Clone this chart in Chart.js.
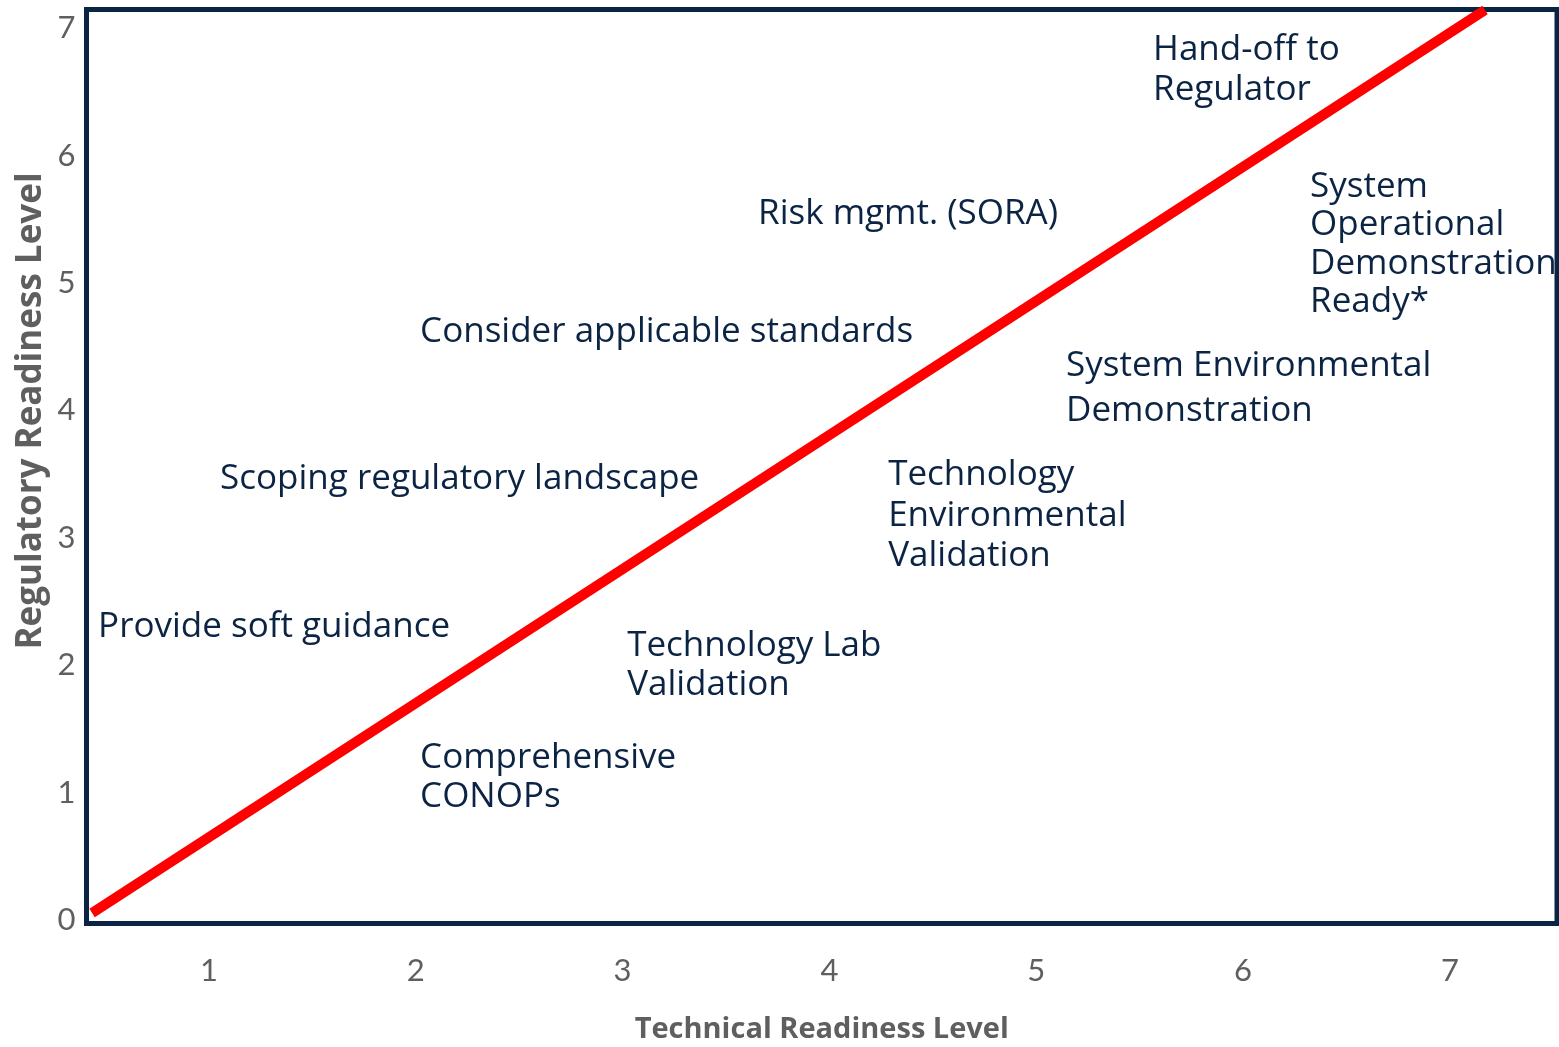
<!DOCTYPE html>
<html>
<head>
<meta charset="utf-8">
<title>Technical vs Regulatory Readiness</title>
<script src="https://cdn.jsdelivr.net/npm/chart.js@4.4.1/dist/chart.umd.min.js"></script>
<style>
    html, body { margin: 0; padding: 0; background: #ffffff; }
</style>
</head>
<body>
<canvas id="readinessChart" width="1559" height="1047"></canvas>
<script>
// tick values on both axes
const techLevels = [1, 2, 3, 4, 5, 6, 7];
const regLevels = [0, 1, 2, 3, 4, 5, 6, 7];

// the red diagonal (technical level -> regulatory level)
const diagonalTech = [0.435, 7.17];
const diagonalReg = [0.055, 7.143];

// stage annotations, anchored at (technical, regulatory) of their first line
const stageText = [
    ['Hand-off to', 'Regulator'],
    ['Risk mgmt. (SORA)'],
    ['System', 'Operational', 'Demonstration', 'Ready*'],
    ['Consider applicable standards'],
    ['System Environmental', 'Demonstration'],
    ['Scoping regulatory landscape'],
    ['Technology', 'Environmental', 'Validation'],
    ['Provide soft guidance'],
    ['Technology Lab', 'Validation'],
    ['Comprehensive', 'CONOPs']
];
const stageTech = [5.565, 3.655, 6.324, 2.021, 5.144, 1.054, 4.284, 0.464, 3.022, 2.021];
const stageReg = [6.829, 5.542, 5.754, 4.616, 4.349, 3.462, 3.493, 2.300, 2.151, 1.272];

// line spacing of each annotation (px)
const stageLineGap = [40, 0, 38.5, 0, 45, 0, 40.5, 0, 39, 39];

const NAVY = '#0c2444';
const GRAY = '#5f5f5f';

const boxAndLabels = {
    id: 'boxAndLabels',
    beforeDatasetsDraw(chart) {
        const {ctx, chartArea: a, scales: {x, y}} = chart;
        ctx.save();
        // annotations first, so the frame and the red line lie on top
        ctx.font = '35px "Open Sans"';
        ctx.fillStyle = NAVY;
        ctx.textAlign = 'left';
        ctx.textBaseline = 'middle';
        stageText.forEach((lines, i) => {
            const px = x.getPixelForValue(stageTech[i]);
            const py = y.getPixelForValue(stageReg[i]);
            lines.forEach((line, j) => ctx.fillText(line, px, py + j * stageLineGap[i]));
        });
        ctx.strokeStyle = NAVY;
        ctx.lineWidth = 5;
        ctx.strokeRect(a.left, a.top, a.right - a.left, a.bottom - a.top);
        ctx.restore();
    },
    afterDraw(chart) {
        // y axis title sits above the middle of the axis, so it is placed by hand
        const {ctx} = chart;
        ctx.save();
        ctx.translate(31, 411);
        ctx.rotate(-Math.PI / 2);
        ctx.font = 'bold 35px "Open Sans"';
        ctx.fillStyle = GRAY;
        ctx.textAlign = 'center';
        ctx.textBaseline = 'middle';
        ctx.fillText('Regulatory Readiness Level', 0, 0);
        ctx.restore();
    }
};

function criarGrafico() {
    const ctx = document.getElementById('readinessChart').getContext('2d');
    new Chart(ctx, {
        type: 'scatter',
        data: {
            datasets: [{
                data: diagonalTech.map((t, i) => ({x: t, y: diagonalReg[i]})),
                showLine: true,
                borderColor: '#ff0000',
                borderWidth: 10,
                borderCapStyle: 'butt',
                pointRadius: 0,
                clip: false
            }]
        },
        options: {
            responsive: false,
            animation: false,
            devicePixelRatio: 1,
            layout: { padding: { top: 9.5, right: 2, left: 0, bottom: 0 } },
            plugins: { legend: { display: false }, tooltip: { enabled: false } },
            scales: {
                x: {
                    type: 'linear',
                    min: 0.408,
                    max: 7.518,
                    afterBuildTicks: s => { s.ticks = techLevels.map(v => ({value: v})); },
                    afterFit: s => { s.height = 123.5; s.paddingLeft = 0; s.paddingRight = 0; },
                    grid: { display: false, drawTicks: false },
                    border: { display: false },
                    ticks: {
                        autoSkip: false,
                        maxRotation: 0,
                        padding: 29,
                        color: GRAY,
                        font: { family: 'Lato', size: 31 }
                    },
                    title: {
                        display: true,
                        text: 'Technical Readiness Level',
                        color: GRAY,
                        padding: { top: 0, bottom: 0 },
                        font: { family: 'Open Sans', size: 29, weight: 'bold' }
                    }
                },
                y: {
                    type: 'linear',
                    min: -0.027,
                    max: 7.147,
                    afterBuildTicks: s => { s.ticks = regLevels.map(v => ({value: v})); },
                    afterFit: s => { s.width = 86.5; s.paddingTop = 0; s.paddingBottom = 0; },
                    grid: { display: false, drawTicks: false },
                    border: { display: false },
                    ticks: {
                        autoSkip: false,
                        padding: 11,
                        color: GRAY,
                        font: { family: 'Lato', size: 31 }
                    }
                }
            }
        },
        plugins: [boxAndLabels]
    });
}

Promise.all([
    document.fonts.load('35px "Open Sans"'),
    document.fonts.load('bold 35px "Open Sans"'),
    document.fonts.load('31px Lato')
]).then(criarGrafico, criarGrafico);
</script>
</body>
</html>
